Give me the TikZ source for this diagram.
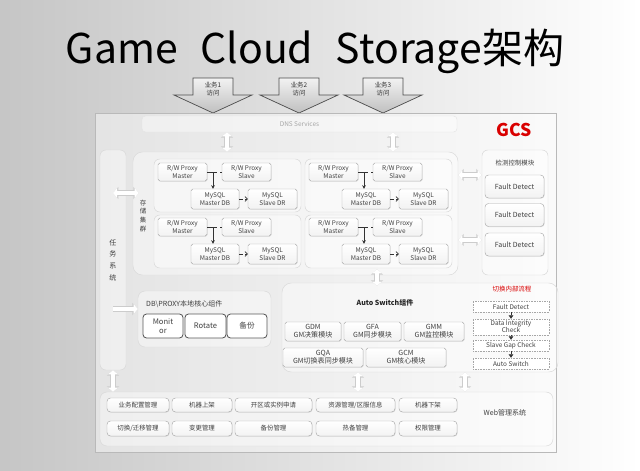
\documentclass[tikz,border=0pt]{standalone}
\usepackage{fontspec}
\setmainfont{Noto Sans CJK SC}
\usetikzlibrary{positioning,shadows,arrows.meta}
\newcommand\pxu{0.03cm}

\begin{document}
\begin{tikzpicture}[x=0.03cm, y=-0.03cm,
	every node/.style={font=\fontsize{5.5}{6.3}\selectfont, text=black!75, inner sep=0pt},
	wh/.style 2 args={minimum width=#1*\pxu, minimum height=#2*\pxu},
	grp/.style={draw=gray!30, fill=white, fill opacity=0.4, text opacity=1, rounded corners=5pt, align=center},
	box/.style={draw=gray!65, top color=white, bottom color=gray!10, rounded corners=1.5pt, align=center,
		drop shadow={opacity=0.25, shadow xshift=0.5pt, shadow yshift=-0.5pt}},
	darkbox/.style={draw=black!65, line width=0.7pt, fill=white, rounded corners=3pt, align=center,
		font=\fontsize{6.5}{7.5}\selectfont},
	flowbox/.style={draw=gray!70, densely dotted, fill=white, align=center, font=\fontsize{5.5}{6}\selectfont},
	bizarrow/.style={draw=gray!60!black, line width=0.6pt, top color=gray!10, bottom color=gray!50},
	conn/.style={draw=black!80, line width=0.6pt},
	hollow/.style={line width=4.6pt, draw=gray!40, {Triangle[width=10pt,length=4.5pt]}-{Triangle[width=10pt,length=4.5pt]},
		postaction={draw=white, line width=3.2pt, {Triangle[width=8pt,length=3.5pt]}-{Triangle[width=8pt,length=3.5pt]}}},
	hollowr/.style={line width=4.6pt, draw=gray!40, -{Triangle[width=10pt,length=4.5pt]},
		postaction={draw=white, line width=3.2pt, -{Triangle[width=8pt,length=3.5pt]}}}
]
	\useasboundingbox (0,0) rectangle (640,470);
	% slide background
	\shade[left color=gray!45, right color=white] (0,0) rectangle (640,470);
	\node[font=\fontsize{35}{38}\selectfont, text=black, anchor=base] (title) at (315,63) {Game\hspace{0.55em}Cloud\hspace{0.55em}Storage架构};
	
	% business access arrows
	\draw[bizarrow] (174,95) -- (193,95) -- (193,78) -- (233,78) -- (233,95) -- (252,95) -- (213,113) -- cycle;
	\draw[bizarrow] (260,95) -- (279,95) -- (279,78) -- (319,78) -- (319,95) -- (338,95) -- (299,113) -- cycle;
	\draw[bizarrow] (344,95) -- (363,95) -- (363,78) -- (403,78) -- (403,95) -- (422,95) -- (383,113) -- cycle;
	\node[align=center, text=black!80] (biz1) at (213,89) {业务1\\访问};
	\node[align=center, text=black!80] (biz2) at (299,89) {业务2\\访问};
	\node[align=center, text=black!80] (biz3) at (383,89) {业务3\\访问};
	
	% main frame
	\draw[gray!55, fill=white, fill opacity=0.45] (95,113) rectangle (556,452);
	\node[grp, wh={315}{16}, draw=gray!20, rounded corners=3pt, text=gray!70] (dns) at (299.5,124) {DNS Services};
	\node[font=\fontsize{15}{16}\selectfont\bfseries, text=red!85!black] (gcs) at (514,130) {GCS};
	
	% task system
	\node[grp, wh={26}{220}, font=\fontsize{6}{10}\selectfont] (task) at (113,260) {任\\务\\系\\统};
	
	% storage cluster
	\node[grp, wh={325}{123}, rounded corners=8pt] (storage) at (295.5,213.5) {};
	\node[align=center, font=\fontsize{5.5}{7.6}\selectfont] (stlbl) at (143,216) {存\\储\\集\\群};
	\node[grp, wh={147}{53}] (sgA) at (227.5,185.5) {};
	\node[grp, wh={147}{53}] (sgB) at (227.5,241.5) {};
	\node[grp, wh={147}{53}] (sgC) at (378.5,185.5) {};
	\node[grp, wh={147}{53}] (sgD) at (378.5,241.5) {};
	
	\node[box, wh={49}{18}] (pmA) at (182.5,172) {R/W Proxy\\Master};
	\node[box, wh={49}{18}] (psA) at (246.5,172) {R/W Proxy\\Slave};
	\node[box, wh={48}{20}] (dbA) at (215,199) {MySQL\\Master DB};
	\node[box, wh={49}{20}] (drA) at (272.5,199) {MySQL\\Slave DR};
	\node[box, wh={49}{18}] (pmB) at (182.5,227) {R/W Proxy\\Master};
	\node[box, wh={49}{18}] (psB) at (246.5,227) {R/W Proxy\\Slave};
	\node[box, wh={48}{20}] (dbB) at (215,254) {MySQL\\Master DB};
	\node[box, wh={49}{20}] (drB) at (272.5,254) {MySQL\\Slave DR};
	\node[box, wh={49}{18}] (pmC) at (333.5,172) {R/W Proxy\\Master};
	\node[box, wh={49}{18}] (psC) at (397.5,172) {R/W Proxy\\Slave};
	\node[box, wh={48}{20}] (dbC) at (366,199) {MySQL\\Master DB};
	\node[box, wh={49}{20}] (drC) at (423.5,199) {MySQL\\Slave DR};
	\node[box, wh={49}{18}] (pmD) at (333.5,227) {R/W Proxy\\Master};
	\node[box, wh={49}{18}] (psD) at (397.5,227) {R/W Proxy\\Slave};
	\node[box, wh={48}{20}] (dbD) at (366,254) {MySQL\\Master DB};
	\node[box, wh={49}{20}] (drD) at (423.5,254) {MySQL\\Slave DR};
	
	\coordinate (jA) at (213,172);
	\coordinate (jB) at (213,227);
	\coordinate (jC) at (364,172);
	\coordinate (jD) at (364,227);
	\draw[conn] (pmA) -- (jA); \draw[conn, dashed] (jA) -- (psA);
	\draw[conn, -{Stealth[length=3pt,width=3pt]}] (jA) -- (jA |- dbA.north);
	\draw[conn, densely dashed, -{Straight Barb[length=2pt]}] (dbA) -- (drA);
	\draw[conn] (pmB) -- (jB); \draw[conn, dashed] (jB) -- (psB);
	\draw[conn, -{Stealth[length=3pt,width=3pt]}] (jB) -- (jB |- dbB.north);
	\draw[conn, densely dashed, -{Straight Barb[length=2pt]}] (dbB) -- (drB);
	\draw[conn] (pmC) -- (jC); \draw[conn, dashed] (jC) -- (psC);
	\draw[conn, -{Stealth[length=3pt,width=3pt]}] (jC) -- (jC |- dbC.north);
	\draw[conn, densely dashed, -{Straight Barb[length=2pt]}] (dbC) -- (drC);
	\draw[conn] (pmD) -- (jD); \draw[conn, dashed] (jD) -- (psD);
	\draw[conn, -{Stealth[length=3pt,width=3pt]}] (jD) -- (jD |- dbD.north);
	\draw[conn, densely dashed, -{Straight Barb[length=2pt]}] (dbD) -- (drD);
	
	% fault detect module
	\node[grp, wh={66}{125}] (fault) at (515,212.5) {};
	\node (faultlbl) at (515,163) {检测控制模块};
	\node[box, wh={59}{23}, font=\fontsize{6}{7}\selectfont, rounded corners=3pt] (fd1) at (514.5,186.5) {Fault Detect};
	\node[box, wh={59}{23}, font=\fontsize{6}{7}\selectfont, rounded corners=3pt] (fd2) at (514.5,215) {Fault Detect};
	\node[box, wh={59}{23}, font=\fontsize{6}{7}\selectfont, rounded corners=3pt] (fd3) at (514.5,244.5) {Fault Detect};
	
	% DB/PROXY local components
	\node[grp, wh={133}{56}, rounded corners=6pt] (dbproxy) at (204.5,319) {};
	\node[anchor=west, font=\fontsize{6}{7}\selectfont] (dbplbl) at (146,304) {DB\textbackslash PROXY本地核心组件};
	\node[darkbox, wh={40}{24}] (mon) at (163,326) {Monit\\or};
	\node[darkbox, wh={41}{24}] (rot) at (205.5,326) {Rotate};
	\node[darkbox, wh={40}{24}] (bak) at (247,326) {备份};
	
	% auto switch
	\node[grp, wh={276}{89}, rounded corners=8pt] (auto) at (420,327.5) {};
	\node[font=\fontsize{6}{7}\selectfont\bfseries, text=black!85] (autolbl) at (385,303) {Auto Switch组件};
	\node[box, wh={56}{19}, font=\fontsize{6}{7}\selectfont] (gdm) at (313,331.5) {GDM\\GM决策模块};
	\node[box, wh={57}{19}, font=\fontsize{6}{7}\selectfont] (gfa) at (372.5,331.5) {GFA\\GM同步模块};
	\node[box, wh={60}{19}, font=\fontsize{6}{7}\selectfont] (gmm) at (434,331.5) {GMM\\GM监控模块};
	\node[box, wh={80}{19}, font=\fontsize{6}{7}\selectfont] (gqa) at (323,357.5) {GQA\\GM切换表同步模块};
	\node[box, wh={80}{19}, font=\fontsize{6}{7}\selectfont] (gcm) at (406,357.5) {GCM\\GM核心模块};
	
	\node[text=red!85!black] (flowlbl) at (512,289) {切换内部流程};
	\node[flowbox, wh={76}{11}] (f1) at (511,306.5) {Fault Detect};
	\node[flowbox, wh={76}{16}] (f2) at (511,327) {Data Integrity\\Check};
	\node[flowbox, wh={76}{11}] (f3) at (511,345.5) {Slave Gap Check};
	\node[flowbox, wh={76}{11}] (f4) at (511,363.5) {Auto Switch};
	\draw[conn, -{Triangle[width=4pt,length=3pt]}] (f1) -- (f2);
	\draw[conn, -{Triangle[width=4pt,length=3pt]}] (f2) -- (f3);
	\draw[conn, -{Triangle[width=4pt,length=3pt]}] (f3) -- (f4);
	
	% web management
	\node[grp, wh={453}{54}, rounded corners=6pt] (web) at (326.5,419) {};
	\node[font=\fontsize{6}{7}\selectfont] (weblbl) at (505,413) {Web管理系统};
	\node[box, wh={62}{14}, rounded corners=3pt] (w11) at (138,405) {业务配置管理};
	\node[box, wh={60}{14}, rounded corners=3pt] (w12) at (202,405) {机器上架};
	\node[box, wh={77}{14}, rounded corners=3pt] (w13) at (273.5,405) {开区或实例申请};
	\node[box, wh={79}{14}, rounded corners=3pt] (w14) at (355.5,405) {资源管理/区服信息};
	\node[box, wh={58}{14}, rounded corners=3pt] (w15) at (428,405) {机器下架};
	\node[box, wh={62}{15}, rounded corners=3pt] (w21) at (138,428.5) {切换/迁移管理};
	\node[box, wh={60}{15}, rounded corners=3pt] (w22) at (202,428.5) {变更管理};
	\node[box, wh={77}{15}, rounded corners=3pt] (w23) at (273.5,428.5) {备份管理};
	\node[box, wh={79}{15}, rounded corners=3pt] (w24) at (355.5,428.5) {热备管理};
	\node[box, wh={58}{15}, rounded corners=3pt] (w25) at (428,428.5) {权限管理};
	
	% hollow connectors between layers
	\draw[hollow] (dns.south -| 227,0) -- (storage.north -| 227,0);
	\draw[hollow] (dns.south -| 393,0) -- (storage.north -| 393,0);
	\draw[hollow] (storage.east |- 0,175) -- (fault.west |- 0,175);
	\draw[hollow] (storage.east |- 0,240) -- (fault.west |- 0,240);
	\draw[hollow, shorten >=-6*\pxu] (task.center |- 0,193) -- (storage.west |- 0,193);
	\draw[hollowr] (task.center |- 0,309) -- (dbproxy.west |- 0,309);
	\draw[hollow, shorten <=-6*\pxu, shorten >=-3*\pxu] (storage.south -| 377,0) -- (auto.north -| 377,0);
	\draw[hollow] (task.south) -- (web.north -| task.south);
	\draw[hollow] (auto.south -| 358,0) -- (web.north -| 358,0);
	\draw[hollow] (auto.south -| 465,0) -- (web.north -| 465,0);
\end{tikzpicture}
\end{document}
